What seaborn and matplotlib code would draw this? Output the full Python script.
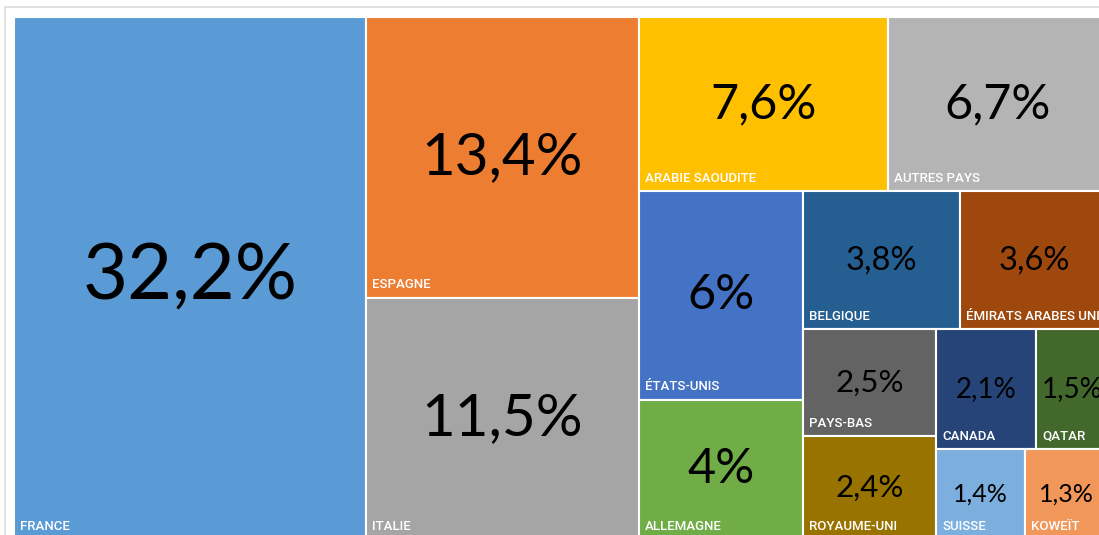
import matplotlib

matplotlib.use("Agg")
import matplotlib.pyplot as plt
import seaborn as sns
from matplotlib.patches import Rectangle

# Share of the total per destination country (%)
COUNTRIES = [
    "FRANCE", "ESPAGNE", "ITALIE", "ARABIE SAOUDITE", "AUTRES PAYS",
    "ÉTATS-UNIS", "ALLEMAGNE", "BELGIQUE", "ÉMIRATS ARABES UNIS",
    "PAYS-BAS", "ROYAUME-UNI", "CANADA", "QATAR", "SUISSE", "KOWEÏT",
]
SHARES = [32.2, 13.4, 11.5, 7.6, 6.7, 6.0, 4.0, 3.8, 3.6, 2.5, 2.4, 2.1, 1.5, 1.4, 1.3]

# styling
COLORS = [
    "#5B9BD5", "#ED7D31", "#A5A5A5", "#FFC000", "#B4B4B4",
    "#4472C4", "#70AD47", "#255E91", "#9E480E",
    "#636363", "#997300", "#264478", "#43682B", "#7CAFDD", "#F1975A",
]
VALUE_FONT_PT = {
    "FRANCE": 56, "ESPAGNE": 42, "ITALIE": 42,
    "ARABIE SAOUDITE": 35, "AUTRES PAYS": 35, "ÉTATS-UNIS": 35, "ALLEMAGNE": 35,
    "BELGIQUE": 23.5, "ÉMIRATS ARABES UNIS": 23.5,
    "PAYS-BAS": 22.5, "ROYAUME-UNI": 22.5,
    "CANADA": 20, "QATAR": 20, "SUISSE": 18, "KOWEÏT": 18,
}


def _worst(row, side):
    """Worst aspect ratio of a strip of areas laid along `side`."""
    s = sum(row)
    return max(max(side * side * r / (s * s), s * s / (side * side * r)) for r in row)


def squarify(areas, x, y, w, h):
    """Squarified treemap layout (Bruls et al.), returns (x, y, w, h) per area."""
    rects = []
    vals = list(areas)
    while vals:
        side = min(w, h)
        row = [vals[0]]
        i = 1
        while i < len(vals) and _worst(row + [vals[i]], side) <= _worst(row, side):
            row.append(vals[i])
            i += 1
        s = sum(row)
        if w >= h:
            cw = s / h
            yy = y
            for v in row:
                rh = v / cw
                rects.append((x, yy, cw, rh))
                yy += rh
            x += cw
            w -= cw
        else:
            rh = s / w
            xx = x
            for v in row:
                rw = v / rh
                rects.append((xx, y, rw, rh))
                xx += rw
            y += rh
            h -= rh
        vals = vals[i:]
    return rects


def fmt_pct(v):
    return f"{v:g}".replace(".", ",") + "%"


sns.set_theme(style="white")

fig = plt.figure(figsize=(10.99, 5.35), dpi=100)
ax = fig.add_axes([0, 0, 1, 1])
ax.set_xlim(0, 1099)
ax.set_ylim(535, 0)
ax.axis("off")

# light panel frame
ax.plot([5, 5, 1120], [560, 7, 7], color="#DCDCDC", lw=1.2, solid_capstyle="butt")

# treemap area (slightly larger than the visible region, as in the source)
X0, Y0, W, H = 14, 17, 1094, 522
total = sum(SHARES)
areas = [s / total * W * H for s in SHARES]
rects = squarify(areas, X0, Y0, W, H)

for name, share, color, (rx, ry, rw, rh) in zip(COUNTRIES, SHARES, COLORS, rects):
    ax.add_patch(Rectangle((rx, ry), rw, rh, facecolor=color,
                           edgecolor="white", linewidth=1.5))
    ax.text(rx + rw / 2, ry + rh / 2, fmt_pct(share),
            ha="center", va="center", color="black",
            fontsize=VALUE_FONT_PT[name], family="Lato")
    ax.text(rx + 6, ry + rh - 9.5, name, ha="left", va="baseline",
            color="white", fontsize=9.5, family="Roboto", fontweight=500)

fig.savefig("out.png", dpi=100)
plt.close(fig)
